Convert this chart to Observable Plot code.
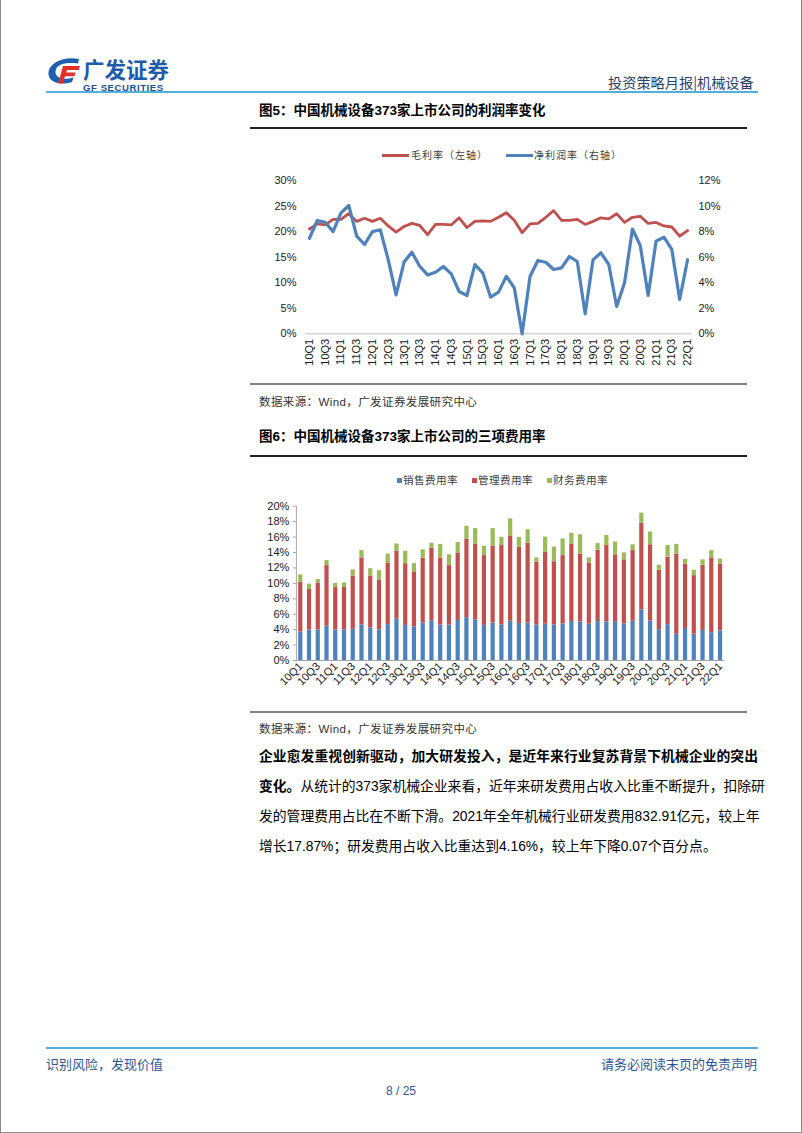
<!DOCTYPE html>
<html><head><meta charset="utf-8">
<script src="https://cdn.jsdelivr.net/npm/d3@7"></script>
<script src="https://cdn.jsdelivr.net/npm/@observablehq/plot@0.6"></script>
<style>
html,body{margin:0;padding:0;background:#fff;}
#page{position:relative;width:802px;height:1133px;box-sizing:border-box;border-left:1px solid #8c8c8c;border-right:1px solid #8c8c8c;border-bottom:1px solid #8c8c8c;overflow:hidden;font-family:"Liberation Sans",Arial,"Noto Sans CJK SC",sans-serif;color:#000;}
.abs{position:absolute;white-space:nowrap;}
.hr{position:absolute;}
.ftitle{font-weight:bold;font-size:13.5px;line-height:18px;}
.src{font-size:11.5px;color:#333;line-height:16px;letter-spacing:0.4px;}
.para{position:absolute;left:258px;width:499px;font-size:13.8px;line-height:30px;height:30px;white-space:nowrap;text-align:justify;text-align-last:justify;}
.leg{font-size:10px;color:#404040;font-family:"Noto Sans CJK SC","Liberation Sans",sans-serif;line-height:14px;}
.sq{position:absolute;width:5px;height:5px;}
</style></head>
<body>
<div id="page">
  <!-- header -->
  <svg class="abs" style="left:44px;top:55px" width="130" height="40" viewBox="0 0 130 40">
    <path d="M34 4 C20 1,5 7,3.5 17 C2.5 27,14 31,27 27 L28.5 22.5 C18 25.5,10 23,10.5 16.5 C11 9,21 7,33 8.5 Z" fill="#1f5fae"/>
    <path d="M18 11 L35 11 L33.8 15 L22 15 L21.2 17.5 L30.5 17.5 L29.4 21.3 L20 21.3 L17.8 28.5 L13.2 28.5 Z" fill="#e1302a"/>
  </svg>
  <div class="abs" style="left:82px;top:56px;font-size:21.5px;font-weight:bold;color:#1e5bab;font-family:'Noto Sans CJK SC',sans-serif;line-height:26px;">广发证券</div>
  <div class="abs" style="left:82px;top:82px;font-size:9.6px;font-weight:bold;color:#1e4f94;line-height:11px;letter-spacing:0.55px;">GF SECURITIES</div>
  <div class="abs" style="left:607px;top:72px;font-size:14.2px;color:#2b3f6b;font-family:'Noto Sans CJK SC',sans-serif;line-height:20px;">投资策略月报|机械设备</div>
  <div class="hr" style="left:45px;top:91px;width:712px;height:2px;background:#4fb0dc;"></div>

  <!-- figure 5 -->
  <div class="abs ftitle" style="left:258px;top:102px;">图5：中国机械设备373家上市公司的利润率变化</div>
  <div class="hr" style="left:249px;top:127px;width:497px;height:1.5px;background:#222;"></div>
  <div class="hr" style="left:381px;top:154px;width:27px;height:3px;background:#c0504d;"></div>
  <div class="abs leg" style="left:410px;top:148px;letter-spacing:1px;">毛利率（左轴）</div>
  <div class="hr" style="left:505px;top:154px;width:27px;height:3px;background:#4f81bd;"></div>
  <div class="abs leg" style="left:533px;top:148px;letter-spacing:1px;">净利润率（右轴）</div>
  <div id="c1" class="abs" style="left:240px;top:165px;"></div>
  <div class="hr" style="left:249px;top:383px;width:497px;height:1.5px;background:#808080;"></div>
  <div class="abs src" style="left:258px;top:394px;">数据来源：Wind，广发证券发展研究中心</div>

  <!-- figure 6 -->
  <div class="abs ftitle" style="left:258px;top:428px;">图6：中国机械设备373家上市公司的三项费用率</div>
  <div class="hr" style="left:249px;top:455px;width:497px;height:1.5px;background:#222;"></div>
  <div class="sq" style="left:396px;top:478px;background:#4f81bd;"></div>
  <div class="abs leg" style="left:402px;top:473px;font-size:10.6px;letter-spacing:0.4px;">销售费用率</div>
  <div class="sq" style="left:471px;top:478px;background:#c0504d;"></div>
  <div class="abs leg" style="left:477px;top:473px;font-size:10.6px;letter-spacing:0.4px;">管理费用率</div>
  <div class="sq" style="left:546px;top:478px;background:#9bbb59;"></div>
  <div class="abs leg" style="left:552px;top:473px;font-size:10.6px;letter-spacing:0.4px;">财务费用率</div>
  <div id="c2" class="abs" style="left:240px;top:495px;"></div>
  <div class="hr" style="left:249px;top:711px;width:497px;height:1.5px;background:#808080;"></div>
  <div class="abs src" style="left:258px;top:721px;">数据来源：Wind，广发证券发展研究中心</div>

  <!-- paragraph -->
  <div class="para" style="top:742px;font-weight:bold;">企业愈发重视创新驱动，加大研发投入，是近年来行业复苏背景下机械企业的突出</div>
  <div class="para" style="top:772px;"><b>变化。</b>从统计的373家机械企业来看，近年来研发费用占收入比重不断提升，扣除研</div>
  <div class="para" style="top:802px;">发的管理费用占比在不断下滑。2021年全年机械行业研发费用832.91亿元，较上年</div>
  <div class="para" style="top:832px;text-align:left;text-align-last:left;">增长17.87%；研发费用占收入比重达到4.16%，较上年下降0.07个百分点。</div>

  <!-- footer -->
  <div class="hr" style="left:45px;top:1047px;width:712px;height:2px;background:#4fb0dc;"></div>
  <div class="abs" style="left:45px;top:1055px;font-size:13px;color:#2f5597;font-family:'Noto Sans CJK SC',sans-serif;line-height:18px;">识别风险，发现价值</div>
  <div class="abs" style="right:44px;top:1055px;font-size:13px;color:#2f5597;font-family:'Noto Sans CJK SC',sans-serif;line-height:18px;">请务必阅读末页的免责声明</div>
  <div class="abs" style="left:0;width:800px;text-align:center;top:1083px;font-size:12px;color:#2f5597;line-height:16px;">8 / 25</div>
</div>
<script>
// ---- data ----
const quarters = ["10Q1","10Q2","10Q3","10Q4","11Q1","11Q2","11Q3","11Q4","12Q1","12Q2","12Q3","12Q4",
  "13Q1","13Q2","13Q3","13Q4","14Q1","14Q2","14Q3","14Q4","15Q1","15Q2","15Q3","15Q4",
  "16Q1","16Q2","16Q3","16Q4","17Q1","17Q2","17Q3","17Q4","18Q1","18Q2","18Q3","18Q4",
  "19Q1","19Q2","19Q3","19Q4","20Q1","20Q2","20Q3","20Q4","21Q1","21Q2","21Q3","21Q4","22Q1"];
const tickQuarters = ["10Q1","10Q3","11Q1","11Q3","12Q1","12Q3","13Q1","13Q3","14Q1","14Q3","15Q1","15Q3",
  "16Q1","16Q3","17Q1","17Q3","18Q1","18Q3","19Q1","19Q3","20Q1","20Q3","21Q1","21Q3","22Q1"];

// Figure 5: gross margin (left axis, %) and net margin (right axis, %)
const grossMargin = [20.5,21.5,21.3,22.4,22.4,23.5,22.0,22.6,22.0,22.6,21.1,19.9,21.0,21.6,21.2,19.4,21.4,21.4,21.3,22.7,
  20.8,22.0,22.1,22.0,22.8,23.7,22.2,19.8,21.5,21.6,22.8,24.1,22.2,22.2,22.4,21.4,22.0,22.7,22.5,23.5,
  21.8,22.8,23.0,21.6,21.8,21.1,20.9,19.1,20.2];
const netMargin = [7.48,8.87,8.73,8.0,9.47,10.04,7.64,6.99,8.0,8.14,5.8,3.05,5.6,6.39,5.29,4.61,4.82,5.27,4.69,3.31,
  3.0,5.42,4.77,2.87,3.26,4.5,3.6,0.0,4.48,5.74,5.6,5.03,5.16,6.05,5.66,1.56,5.79,6.34,5.42,2.14,
  3.99,8.2,6.9,3.0,7.25,7.56,6.6,2.68,5.8];
const leftTicks = [0,5,10,15,20,25,30];
const rightTicks = [0,2,4,6,8,10,12];

// Figure 6: expense ratios (%)
const costTypes = ["销售费用率","管理费用率","财务费用率"];
const costColors = ["#4f81bd","#c0504d","#9bbb59"];
const salesRate = [3.7,3.95,3.95,4.45,3.95,3.95,4.05,4.6,4.2,3.95,4.65,5.35,4.55,4.35,4.85,5.15,4.6,4.6,5.2,5.55,
  5.25,4.55,4.85,4.6,5.1,4.8,4.85,4.6,4.7,4.6,4.75,5.05,5.0,4.7,5.05,5.0,4.95,4.75,5.1,6.55,
  5.1,4.0,4.65,3.4,4.15,3.4,3.9,3.6,3.85];
const adminRate = [6.45,5.25,6.1,7.85,5.5,5.5,6.9,8.7,6.75,6.5,8.0,8.85,8.0,7.15,8.4,9.4,8.7,7.7,8.75,10.2,
  9.85,9.05,10.0,10.3,11.05,9.9,10.35,8.15,9.3,8.2,8.85,10.0,8.8,7.95,9.25,9.9,8.75,8.3,9.15,11.25,
  9.9,7.7,8.75,10.4,8.35,7.6,8.45,9.7,8.65];
const financeRate = [0.95,0.7,0.45,0.65,0.55,0.6,0.8,0.95,0.95,1.2,1.15,0.9,1.6,1.05,1.1,0.65,1.75,1.4,1.35,1.65,
  2.0,1.2,2.25,1.05,2.2,1.25,1.75,0.55,2.0,1.9,2.15,1.45,2.5,0.65,0.85,1.3,1.65,0.9,0.75,1.3,
  1.65,0.65,1.5,1.25,0.6,0.7,0.7,0.95,0.65];
const costTicks = [0,2,4,6,8,10,12,14,16,18,20];

// ---- chart 1 ----
const axisRatio = leftTicks[leftTicks.length-1] / rightTicks[rightTicks.length-1];
const marginRows = quarters.map((q,i)=>({q, gross: grossMargin[i], net: netMargin[i]}));
const fontStack = "'Liberation Sans', Arial, 'Noto Sans CJK SC', sans-serif";
const c1 = Plot.plot({
  width: 480, height: 215,
  marginLeft: 64, marginRight: 30, marginTop: 15, marginBottom: 46.7,
  x: {type: "point", domain: quarters, padding: 0.5},
  y: {domain: [0, 30]},
  style: {fontFamily: fontStack, fontSize: "11px", color: "#1a1a1a", background: "transparent"},
  marks: [
    Plot.ruleY([0], {stroke: "#bfbfbf", strokeWidth: 1}),
    Plot.axisY(leftTicks, {anchor: "left", tickFormat: d => d + "%", tickSize: 0, tickPadding: 9, label: null}),
    Plot.axisY(rightTicks.map(t => t * axisRatio), {anchor: "right", tickFormat: d => (d / axisRatio) + "%", tickSize: 0, tickPadding: 7, label: null}),
    Plot.axisX(tickQuarters, {tickRotate: -90, tickSize: 0, tickPadding: 5, label: null}),
    Plot.line(marginRows, {x: "q", y: "gross", stroke: "#c0504d", strokeWidth: 2.8}),
    Plot.line(marginRows, {x: "q", y: d => d.net * axisRatio, stroke: "#4f81bd", strokeWidth: 3.2})
  ]
});
document.getElementById("c1").appendChild(c1);

// ---- chart 2 ----
const costRows = quarters.flatMap((q,i)=>[
  {q, type: costTypes[0], v: salesRate[i]},
  {q, type: costTypes[1], v: adminRate[i]},
  {q, type: costTypes[2], v: financeRate[i]}
]);
const c2 = Plot.plot({
  width: 490, height: 205,
  marginLeft: 54.9, marginRight: 6.6, marginTop: 10.7, marginBottom: 40,
  x: {type: "band", domain: quarters, paddingInner: 0.52, paddingOuter: 0.26},
  y: {domain: [0, 20]},
  color: {domain: costTypes, range: costColors},
  style: {fontFamily: fontStack, fontSize: "11px", color: "#1a1a1a", background: "transparent"},
  marks: [
    Plot.barY(costRows, {x: "q", y: "v", fill: "type"}),
    Plot.ruleY([0], {stroke: "#a6a6a6", strokeWidth: 1}),
    Plot.frame({anchor: "left", stroke: "#a6a6a6"}),
    Plot.axisY(costTicks, {anchor: "left", tickFormat: d => d + "%", tickSize: 3, tickPadding: 4, stroke: "#a6a6a6", label: null}),
    Plot.axisX(tickQuarters, {tickRotate: -45, tickSize: 0, tickPadding: 4, label: null})
  ]
});
document.getElementById("c2").appendChild(c2);
</script>
</body></html>
